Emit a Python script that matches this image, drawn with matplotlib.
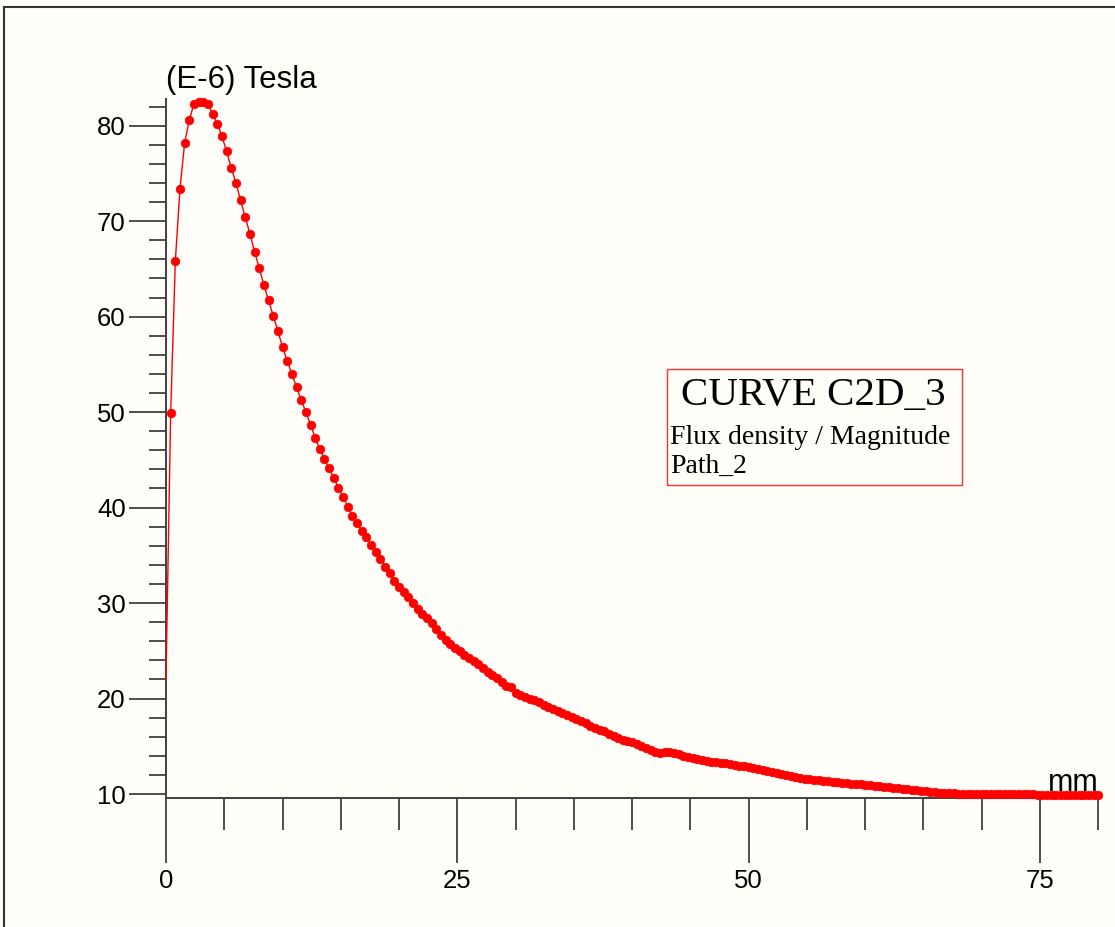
import numpy as np
import matplotlib
matplotlib.use('Agg')
import matplotlib.pyplot as plt
from matplotlib.patches import Rectangle
from matplotlib.lines import Line2D
from matplotlib.ticker import FixedLocator

# Flux density magnitude along Path_2 (E-6 Tesla), sampled every 0.4 mm
STEP_MM = 0.4
flux = [
    22.0, 49.9, 65.8, 73.4, 78.2, 80.6, 82.3, 82.5, 82.5, 82.3,   # 0.0 - 3.6
    81.2, 80.2, 78.9, 77.3, 75.6, 74.0, 72.2, 70.4, 68.7, 66.8,   # 4.0 - 7.6
    65.1, 63.3, 61.7, 60.1, 58.5, 56.8, 55.4, 54.0, 52.6, 51.3,   # 8.0 - 11.6
    50.0, 48.7, 47.3, 46.1, 45.1, 44.1, 43.1, 42.1, 41.1, 40.1,   # 12.0 - 15.6
    39.1, 38.4, 37.6, 36.9, 36.1, 35.3, 34.6, 33.8, 33.1, 32.3,   # 16.0 - 19.6
    31.7, 31.2, 30.6, 30.0, 29.4, 28.9, 28.4, 27.9, 27.3, 26.7,   # 20.0 - 23.6
    26.1, 25.7, 25.3, 25.0, 24.6, 24.2, 23.9, 23.6, 23.2, 22.8,   # 24.0 - 27.6
    22.5, 22.2, 21.7, 21.3, 21.2, 20.6, 20.4, 20.2, 20.0, 19.8,   # 28.0 - 31.6
    19.6, 19.35, 19.1, 18.9, 18.7, 18.5, 18.3, 18.1, 17.85, 17.6,  # 32.0 - 35.6
    17.4, 17.15, 16.95, 16.75, 16.55, 16.3, 16.1, 15.9, 15.7, 15.55,  # 36.0 - 39.6
    15.4, 15.2, 15.0, 14.8, 14.6, 14.45, 14.3, 14.45, 14.4, 14.3,  # 40.0 - 43.6
    14.15, 14.0, 13.9, 13.75, 13.65, 13.55, 13.5, 13.4, 13.35, 13.25,  # 44.0 - 47.6
    13.2, 13.1, 13.05, 12.95, 12.9, 12.8, 12.7, 12.6, 12.5, 12.4,  # 48.0 - 51.6
    12.3, 12.2, 12.1, 11.95, 11.85, 11.75, 11.65, 11.6, 11.55, 11.5,  # 52.0 - 55.6
    11.45, 11.4, 11.35, 11.3, 11.25, 11.2, 11.15, 11.1, 11.05, 11.0,  # 56.0 - 59.6
    10.95, 10.9, 10.85, 10.8, 10.75, 10.7, 10.65, 10.6, 10.55, 10.5,  # 60.0 - 63.6
    10.45, 10.4, 10.35, 10.3, 10.25, 10.2, 10.15, 10.1, 10.08, 10.06,  # 64.0 - 67.6
    10.05, 10.04, 10.03, 10.02, 10.01, 10.0, 10.0, 9.99, 9.99, 9.98,  # 68.0 - 71.6
    9.98, 9.97, 9.97, 9.97, 9.96, 9.96, 9.96, 9.95, 9.95, 9.95,    # 72.0 - 75.6
    9.95, 9.95, 9.94, 9.94, 9.94, 9.94, 9.94, 9.94, 9.94, 9.94,    # 76.0 - 79.6
    9.94,                                                          # 80.0
]
pos_mm = np.arange(len(flux)) * STEP_MM

x_major = [0, 25, 50, 75]
x_minor = [5, 10, 15, 20, 30, 35, 40, 45, 55, 60, 65, 70, 80]
y_major = [10, 20, 30, 40, 50, 60, 70, 80]
y_minor = [12, 14, 16, 18, 22, 24, 26, 28, 32, 34, 36, 38, 42, 44, 46, 48,
           52, 54, 56, 58, 62, 64, 66, 68, 72, 74, 76, 78, 82]

BG = '#fffef9'
AX = '#404040'

fig = plt.figure(figsize=(11.15, 9.27), dpi=100, facecolor=BG)
ax = fig.add_axes([0.14888, 0.04045, 0.83614, 0.92697])
ax.set_facecolor(BG)
ax.set_xlim(0, 80)
ax.set_ylim(0, 90)

# curve: thin line + dense markers (no marker on first point)
ax.plot(pos_mm, flux, '-', color='red', lw=1.0, clip_on=False, zorder=3)
ax.plot(pos_mm[1:], flux[1:], 'o', color='red', ms=6.3, mew=0.4, mec='red',
        clip_on=False, zorder=4)

# axes lines
for s in ['top', 'right']:
    ax.spines[s].set_visible(False)
ax.spines['left'].set_position(('data', 0))
ax.spines['left'].set_bounds(9.6, 82.8)
ax.spines['bottom'].set_position(('data', 9.6))
ax.spines['bottom'].set_bounds(0, 80)
for s in ['left', 'bottom']:
    ax.spines[s].set_color(AX)
    ax.spines[s].set_linewidth(1.4)

ax.set_xticks(x_major)
ax.xaxis.set_minor_locator(FixedLocator(x_minor))
ax.set_yticks(y_major)
ax.yaxis.set_minor_locator(FixedLocator(y_minor))
ax.tick_params(axis='x', which='major', direction='out', length=47, width=1.3,
               color=AX, pad=4, labelsize=18.5)
ax.tick_params(axis='x', which='minor', direction='out', length=23, width=1.3, color=AX)
ax.tick_params(axis='y', which='major', direction='out', length=27, width=1.3,
               color=AX, pad=2, labelsize=18.5)
ax.tick_params(axis='y', which='minor', direction='out', length=12, width=1.3, color=AX)
for lab in ax.get_xticklabels() + ax.get_yticklabels():
    lab.set_family('Liberation Sans')

ax.text(0, 84.8, '(E-6) Tesla', fontsize=22.5, family='Liberation Sans',
        ha='left', va='center')
ax.text(80, 10.3, 'mm', fontsize=22, family='Liberation Sans',
        ha='right', va='baseline')

# curve caption box
fig.add_artist(Rectangle((667 / 1115, 1 - 485 / 927), 295 / 1115, 116 / 927,
                         transform=fig.transFigure, fill=False,
                         edgecolor='#ff3030', lw=1.0))
fig.text(813 / 1115, 1 - 396 / 927, 'CURVE C2D_3', fontsize=29.5,
         family='Liberation Serif', ha='center', va='center')
fig.text(670 / 1115, 1 - 437 / 927, 'Flux density / Magnitude', fontsize=20,
         family='Liberation Serif', ha='left', va='center')
fig.text(670 / 1115, 1 - 466 / 927, 'Path_2', fontsize=20,
         family='Liberation Serif', ha='left', va='center')

# window frame (top and left edges)
fig.add_artist(Line2D([3.5 / 1115, 1], [1 - 6.5 / 927, 1 - 6.5 / 927],
                      transform=fig.transFigure, color='#333333', lw=1.5))
fig.add_artist(Line2D([3.5 / 1115, 3.5 / 1115], [0, 1 - 6.5 / 927],
                      transform=fig.transFigure, color='#333333', lw=1.5))

fig.savefig('out.png', dpi=100, facecolor=BG)
